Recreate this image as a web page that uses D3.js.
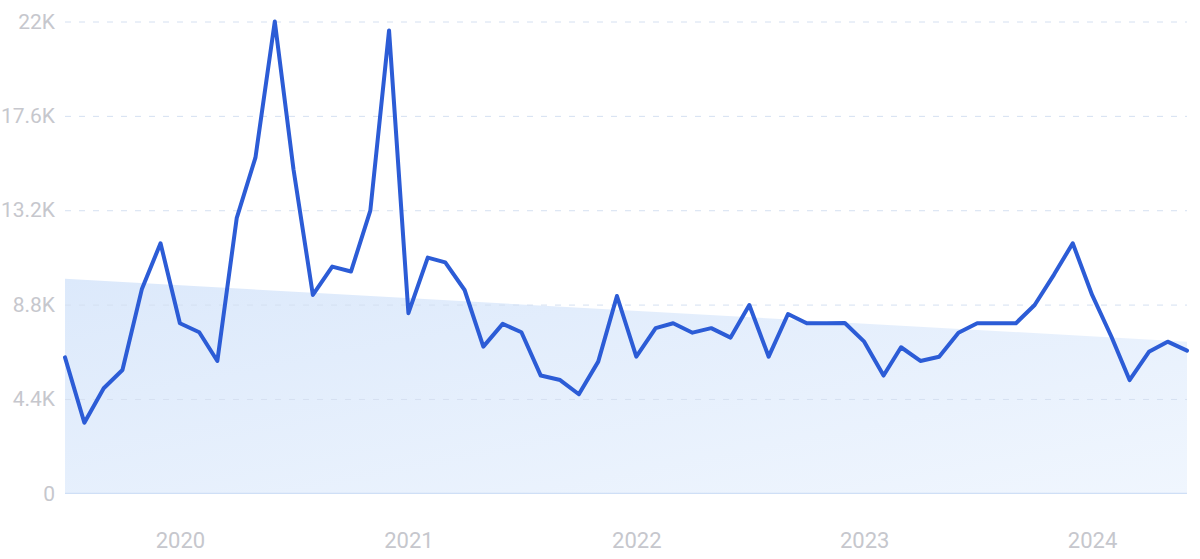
<!DOCTYPE html>
<html>
<head>
<meta charset="utf-8">
<script src="https://cdn.jsdelivr.net/npm/d3@7"></script>
<style>
  html, body { margin: 0; padding: 0; background: #ffffff; }
  svg { display: block; }
  text { font-family: Roboto, "Noto Sans", sans-serif; }
</style>
</head>
<body>
<svg id="chart" width="1200" height="559"></svg>
<script>
// ---- data ----
const startMonth = "2019-07";
const values = [
  6340, 3290, 4900, 5750, 9510, 11660, 7930, 7510, 6170, 12830,
  15650, 22000, 15100, 9250, 10570, 10340, 13180, 21580, 8400, 10990,
  10770, 9480, 6840, 7900, 7510, 5490, 5280, 4620, 6140, 9200,
  6370, 7700, 7930, 7490, 7700, 7260, 8780, 6370, 8360, 7930,
  7930, 7940, 7070, 5490, 6810, 6170, 6370, 7490, 7930, 7930,
  7930, 8780, 10200, 11660, 9250, 7300, 5280, 6600, 7070, 6650
];
const trendValues = [10000, 7070];
const yTicks = [0, 4400, 8800, 13200, 17600, 22000];
const yTickLabels = ["0", "4.4K", "8.8K", "13.2K", "17.6K", "22K"];
const xTickYears = [2020, 2021, 2022, 2023, 2024];

// ---- layout ----
const svg = d3.select("#chart");
const margin = { left: 65, right: 13, top: 21.5, bottom: 65.7 };
const W = 1200, H = 559;

const parse = d3.timeParse("%Y-%m");
const start = parse(startMonth);
const dates = values.map((_, i) => d3.timeMonth.offset(start, i));
const data = values.map((v, i) => ({ date: dates[i], value: v }));

const x = d3.scaleTime()
  .domain([dates[0], dates[dates.length - 1]])
  .range([margin.left, W - margin.right]);
const y = d3.scaleLinear()
  .domain([0, 22000])
  .range([H - margin.bottom, margin.top]);

// gradient
const defs = svg.append("defs");
const grad = defs.append("linearGradient")
  .attr("id", "areaGrad")
  .attr("x1", "0%").attr("y1", "0%").attr("x2", "100%").attr("y2", "100%");
grad.append("stop").attr("offset", "0%").attr("stop-color", "#dce9fb");
grad.append("stop").attr("offset", "100%").attr("stop-color", "#f0f6fe");

// trend area
const trendData = [
  { date: dates[0], value: trendValues[0] },
  { date: dates[dates.length - 1], value: trendValues[1] }
];
svg.append("path")
  .datum(trendData)
  .attr("fill", "url(#areaGrad)")
  .attr("d", d3.area().x(d => x(d.date)).y0(y(0)).y1(d => y(d.value)));

// grid lines
const yAxis = d3.axisLeft(y)
  .tickValues(yTicks)
  .tickFormat((d, i) => yTickLabels[i])
  .tickSize(0)
  .tickPadding(10);
const gy = svg.append("g")
  .attr("transform", `translate(${margin.left},0)`)
  .call(yAxis);
gy.select(".domain").remove();
gy.selectAll(".tick text")
  .attr("fill", "#c6c7cd")
  .attr("font-size", 21)
  .attr("x", -10);
gy.selectAll(".tick")
  .filter(d => d !== 0)
  .append("line")
  .attr("x1", 0)
  .attr("x2", W - margin.right - margin.left)
  .attr("stroke", "#d5e0f1")
  .attr("stroke-width", 1)
  .attr("stroke-dasharray", "6,8");

// baseline
svg.append("line")
  .attr("x1", margin.left).attr("x2", W - margin.right)
  .attr("y1", y(0)).attr("y2", y(0))
  .attr("stroke", "#cfdff6").attr("stroke-width", 1.2);

// x axis
const xAxis = d3.axisBottom(x)
  .tickValues(xTickYears.map(yr => new Date(yr, 0, 1)))
  .tickFormat(d3.timeFormat("%Y"))
  .tickSize(0)
  .tickPadding(0);
const gx = svg.append("g")
  .attr("transform", `translate(0,${y(0)})`)
  .call(xAxis);
gx.select(".domain").remove();
gx.selectAll(".tick text")
  .attr("fill", "#c6c7cd")
  .attr("font-size", 22)
  .attr("dy", 0)
  .attr("y", 55);

// line
svg.append("path")
  .datum(data)
  .attr("fill", "none")
  .attr("stroke", "#2c5cd6")
  .attr("stroke-width", 4)
  .attr("stroke-linejoin", "round")
  .attr("stroke-linecap", "round")
  .attr("d", d3.line().x(d => x(d.date)).y(d => y(d.value)));
</script>
</body>
</html>
